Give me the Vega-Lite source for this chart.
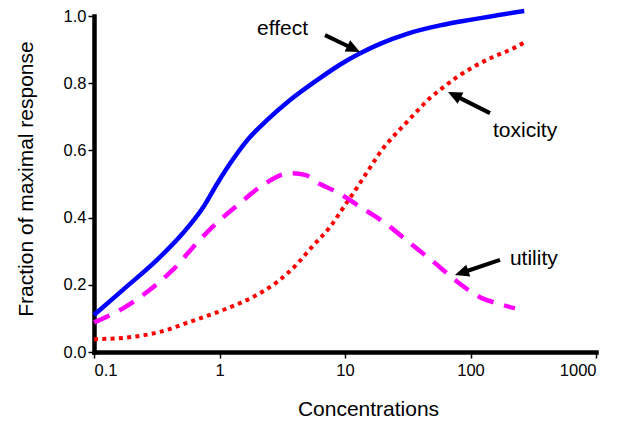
{
  "$schema": "https://vega.github.io/schema/vega-lite/v6.json",
  "width": 502,
  "height": 336,
  "autosize": "none",
  "padding": {"left": 94, "top": 16, "right": 30, "bottom": 70},
  "background": "white",
  "config": {
    "view": {"stroke": null},
    "font": "Liberation Sans",
    "axis": {
      "grid": false,
      "domainColor": "black",
      "domainWidth": 4.5,
      "domainCap": "square",
      "tickColor": "black",
      "tickWidth": 1.5,
      "tickSize": 6,
      "labelColor": "black",
      "labelFont": "Liberation Sans",
      "labelFontSize": 16.5,
      "titleColor": "black",
      "titleFont": "Liberation Sans",
      "titleFontSize": 21,
      "titleFontWeight": "normal"
    }
  },
  "datasets": {
    "curves": [
      {"series": "effect", "c": 0.1, "v": 0.11},
      {"series": "effect", "c": 0.17, "v": 0.185},
      {"series": "effect", "c": 0.318, "v": 0.274},
      {"series": "effect", "c": 0.512, "v": 0.354},
      {"series": "effect", "c": 0.739, "v": 0.43},
      {"series": "effect", "c": 0.955, "v": 0.5},
      {"series": "effect", "c": 1.21, "v": 0.56},
      {"series": "effect", "c": 1.66, "v": 0.63},
      {"series": "effect", "c": 2.39, "v": 0.69},
      {"series": "effect", "c": 3.65, "v": 0.75},
      {"series": "effect", "c": 6.3, "v": 0.815},
      {"series": "effect", "c": 9.1, "v": 0.855},
      {"series": "effect", "c": 13.2, "v": 0.889},
      {"series": "effect", "c": 19.0, "v": 0.917},
      {"series": "effect", "c": 31.2, "v": 0.947},
      {"series": "effect", "c": 57.2, "v": 0.972},
      {"series": "effect", "c": 105, "v": 0.99},
      {"series": "effect", "c": 268, "v": 1.015},
      {"series": "toxicity", "c": 0.1, "v": 0.038},
      {"series": "toxicity", "c": 0.205, "v": 0.045},
      {"series": "toxicity", "c": 0.336, "v": 0.06},
      {"series": "toxicity", "c": 0.582, "v": 0.09},
      {"series": "toxicity", "c": 1.07, "v": 0.125},
      {"series": "toxicity", "c": 1.85, "v": 0.164},
      {"series": "toxicity", "c": 2.87, "v": 0.208},
      {"series": "toxicity", "c": 4.15, "v": 0.262},
      {"series": "toxicity", "c": 5.46, "v": 0.313},
      {"series": "toxicity", "c": 7.59, "v": 0.372},
      {"series": "toxicity", "c": 10.0, "v": 0.437},
      {"series": "toxicity", "c": 12.5, "v": 0.49},
      {"series": "toxicity", "c": 16.7, "v": 0.562},
      {"series": "toxicity", "c": 20.1, "v": 0.606},
      {"series": "toxicity", "c": 24.1, "v": 0.64},
      {"series": "toxicity", "c": 31.2, "v": 0.685},
      {"series": "toxicity", "c": 39.6, "v": 0.726},
      {"series": "toxicity", "c": 47.5, "v": 0.756},
      {"series": "toxicity", "c": 57.1, "v": 0.78},
      {"series": "toxicity", "c": 78, "v": 0.818},
      {"series": "toxicity", "c": 105, "v": 0.848},
      {"series": "toxicity", "c": 151, "v": 0.878},
      {"series": "toxicity", "c": 206, "v": 0.899},
      {"series": "toxicity", "c": 265, "v": 0.92},
      {"series": "utility", "c": 0.1, "v": 0.088},
      {"series": "utility", "c": 0.17, "v": 0.13},
      {"series": "utility", "c": 0.279, "v": 0.185},
      {"series": "utility", "c": 0.426, "v": 0.245},
      {"series": "utility", "c": 0.662, "v": 0.325},
      {"series": "utility", "c": 0.955, "v": 0.385},
      {"series": "utility", "c": 1.455, "v": 0.443},
      {"series": "utility", "c": 2.22, "v": 0.497},
      {"series": "utility", "c": 3.65, "v": 0.532},
      {"series": "utility", "c": 4.8, "v": 0.527},
      {"series": "utility", "c": 6.32, "v": 0.5},
      {"series": "utility", "c": 8.0, "v": 0.482},
      {"series": "utility", "c": 10.4, "v": 0.458},
      {"series": "utility", "c": 13.2, "v": 0.432},
      {"series": "utility", "c": 16.7, "v": 0.408},
      {"series": "utility", "c": 20.8, "v": 0.384},
      {"series": "utility", "c": 33, "v": 0.324},
      {"series": "utility", "c": 50, "v": 0.27},
      {"series": "utility", "c": 78, "v": 0.21},
      {"series": "utility", "c": 119, "v": 0.163},
      {"series": "utility", "c": 162, "v": 0.145},
      {"series": "utility", "c": 226, "v": 0.13}
    ],
    "labels": [
      {"label": "effect", "c": 1.99, "v": 0.943},
      {"label": "toxicity", "c": 151, "v": 0.641},
      {"label": "utility", "c": 206, "v": 0.259}
    ],
    "arrows": [
      {"label": "effect", "c": 6.93, "v": 0.943, "c2": 11.54, "v2": 0.9033, "tc": 13.17, "tv": 0.893, "heading": 25.9},
      {"label": "toxicity", "c": 143, "v": 0.711, "c2": 75.5, "v2": 0.763, "tc": 66.2, "tv": 0.774, "heading": 206.6},
      {"label": "utility", "c": 171.8, "v": 0.274, "c2": 86.5, "v2": 0.2366, "tc": 75.2, "tv": 0.229, "heading": 161.6}
    ]
  },
  "layer": [
    {
      "data": {"name": "curves"},
      "transform": [{"filter": "datum.series === 'effect'"}],
      "mark": {"type": "line", "color": "#0000FF", "strokeWidth": 4.5, "interpolate": "monotone"},
      "encoding": {
        "x": {
          "field": "c", "type": "quantitative", "title": "Concentrations",
          "scale": {"type": "log", "domain": [0.1, 1000], "nice": false},
          "axis": {"values": [0.1, 1, 10, 100, 1000], "format": "~g", "labelPadding": 4, "titleX": 274, "titleY": 63, "titleBaseline": "alphabetic", "titleAlign": "center"}
        },
        "y": {
          "field": "v", "type": "quantitative", "title": "Fraction of maximal response",
          "scale": {"domain": [0, 1], "nice": false},
          "axis": {"values": [0, 0.2, 0.4, 0.6, 0.8, 1.0], "format": ".1f", "labelPadding": 2, "titleX": -62, "titleY": 162.5, "titleBaseline": "alphabetic", "titleAlign": "center", "titleAngle": -90}
        }
      }
    },
    {
      "data": {"name": "curves"},
      "transform": [{"filter": "datum.series === 'toxicity'"}],
      "mark": {"type": "line", "color": "#FF0000", "strokeWidth": 4, "strokeDash": [4, 4.3], "strokeCap": "butt", "interpolate": "monotone"},
      "encoding": {
        "x": {"field": "c", "type": "quantitative", "title": "Concentrations"},
        "y": {"field": "v", "type": "quantitative", "title": "Fraction of maximal response"}
      }
    },
    {
      "data": {"name": "curves"},
      "transform": [{"filter": "datum.series === 'utility'"}],
      "mark": {"type": "line", "color": "#FF00FF", "strokeWidth": 4.5, "strokeDash": [17, 11], "strokeCap": "butt", "interpolate": "monotone"},
      "encoding": {
        "x": {"field": "c", "type": "quantitative", "title": "Concentrations"},
        "y": {"field": "v", "type": "quantitative", "title": "Fraction of maximal response"}
      }
    },
    {
      "data": {"name": "labels"},
      "mark": {"type": "text", "align": "left", "baseline": "alphabetic", "fontSize": 21, "font": "Liberation Sans", "color": "black"},
      "encoding": {
        "x": {"field": "c", "type": "quantitative", "title": "Concentrations"},
        "y": {"field": "v", "type": "quantitative", "title": "Fraction of maximal response"},
        "text": {"field": "label"}
      }
    },
    {
      "data": {"name": "arrows"},
      "mark": {"type": "rule", "color": "black", "strokeWidth": 4},
      "encoding": {
        "x": {"field": "c", "type": "quantitative", "title": "Concentrations"},
        "y": {"field": "v", "type": "quantitative", "title": "Fraction of maximal response"},
        "x2": {"field": "c2"},
        "y2": {"field": "v2"}
      }
    },
    {
      "data": {"name": "arrows"},
      "mark": {"type": "point", "shape": "M 0 0 L -2 -0.9 L -2 0.9 Z", "filled": true, "color": "black", "opacity": 1, "size": 196},
      "encoding": {
        "x": {"field": "tc", "type": "quantitative", "title": "Concentrations"},
        "y": {"field": "tv", "type": "quantitative", "title": "Fraction of maximal response"},
        "angle": {"field": "heading", "type": "quantitative", "scale": null}
      }
    }
  ]
}
